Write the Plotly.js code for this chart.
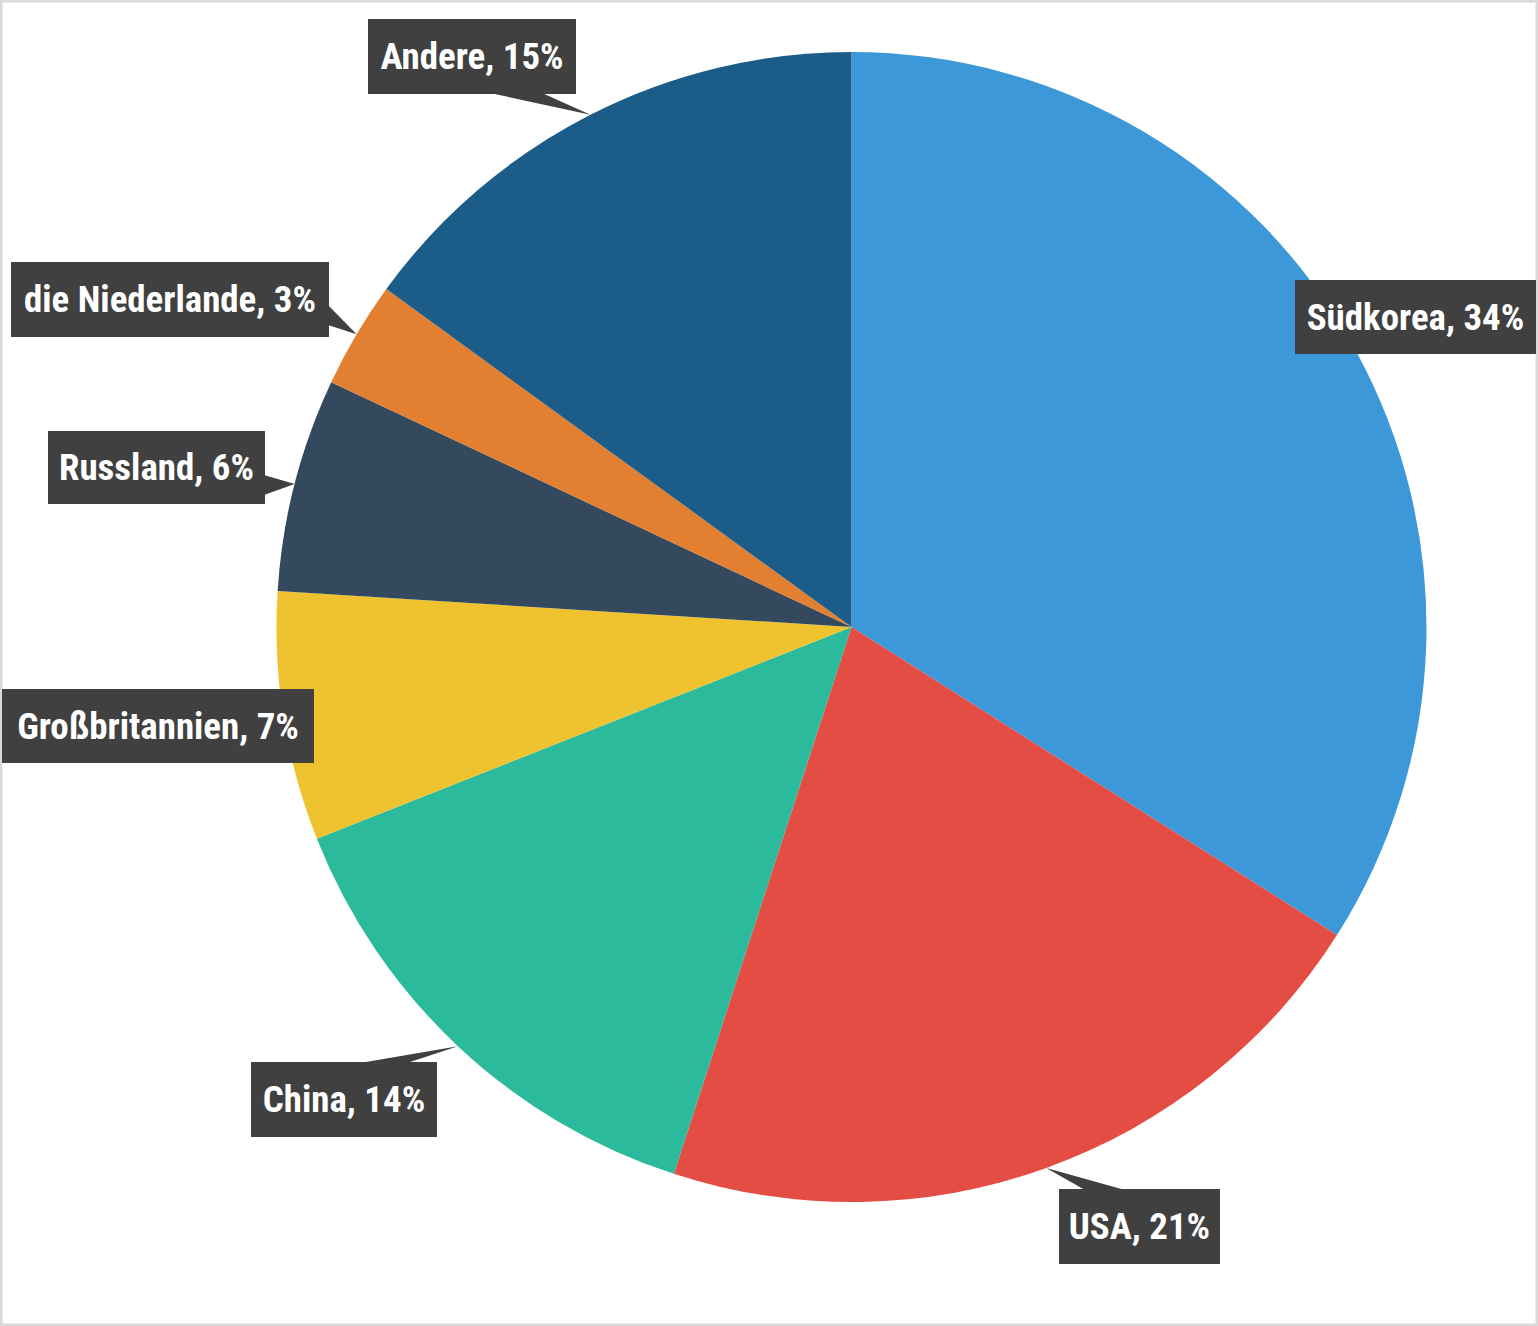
<!DOCTYPE html>
<html>
<head>
<meta charset="utf-8">
<script src="https://cdn.plot.ly/plotly-3.0.1.min.js"></script>
<style>
html,body{margin:0;padding:0;background:#fff;}
#chart{width:1538px;height:1326px;}
</style>
</head>
<body>
<div id="chart"></div>
<script>
// ---- data ----
var categories = ["Südkorea", "USA", "China", "Großbritannien", "Russland", "die Niederlande", "Andere"];
var shares = [34, 21, 14, 7, 6, 3, 15];
var colors = ["#3c98d9", "#e44d43", "#2bba9c", "#efc230", "#34495e", "#e37f31", "#1b5c88"];

// ---- label box layout (pixels) ----
var W = 1538, H = 1326;
var boxes = [
  {cx: 1415.5, cy: 317,    w: 241, h: 74, base: [[1330, 345], [1380, 345]]},
  {cx: 1139.5, cy: 1226.5, w: 161, h: 75, base: [[1085, 1190], [1125, 1190]]},
  {cx: 344,    cy: 1099.5, w: 186, h: 75, base: [[360, 1063], [407, 1063]]},
  {cx: 158,    cy: 726,    w: 312, h: 74, base: [[300, 710], [300, 730]]},
  {cx: 156.5,  cy: 467.5,  w: 217, h: 73, base: [[264, 475], [264, 495]]},
  {cx: 170,    cy: 299.5,  w: 318, h: 75, base: [[328, 305], [328, 325]]},
  {cx: 472,    cy: 56.5,   w: 208, h: 75, base: [[490, 93], [542, 93]]}
];
var pie = {cx: 851.5, cy: 627, r: 575};

function px(x){ return x / W; }
function py(y){ return 1 - y / H; }

// pick an installed condensed font
var canvas = document.createElement("canvas");
var ctx = canvas.getContext("2d");
function textW(font, s){ ctx.font = font; return ctx.measureText(s).width; }
var probe = "abcdefghijklmnopqrstuvwxyz ABCDEFG 0123456789";
function available(f){
  var a = textW("bold 40px monospace", probe), b = textW("bold 40px '" + f + "', monospace", probe);
  var c = textW("bold 40px serif", probe), d = textW("bold 40px '" + f + "', serif", probe);
  return a !== b || c !== d;
}
var candidates = ["Liberation Sans Narrow", "Arial Narrow", "Roboto Condensed", "Noto Sans Condensed", "Open Sans Condensed", "DejaVu Sans Condensed", "Liberation Sans"];
var avail = candidates.filter(available);
var family = avail.length ? avail[0] : "sans-serif";

var labels = categories.map(function(c, i){ return c + ", " + shares[i] + "%"; });
var fontSize = 40;
labels.forEach(function(t, i){
  var w1 = textW("bold 100px '" + family + "'", t) / 100;
  fontSize = Math.min(fontSize, 0.92 * boxes[i].w / w1);
});
fontSize = Math.floor(fontSize * 10) / 10;

var total = shares.reduce(function(a,b){return a+b;}, 0);
var shapes = [];
var annotations = [];
var cum = 0;
for (var i = 0; i < categories.length; i++) {
  var mid = (cum + shares[i] / 2) / total * 2 * Math.PI; // clockwise from top
  cum += shares[i];
  var tx = pie.cx + pie.r * Math.sin(mid);
  var ty = pie.cy - pie.r * Math.cos(mid);
  var b = boxes[i];
  shapes.push({
    type: "path", xref: "paper", yref: "paper", layer: "above",
    path: "M " + px(b.base[0][0]) + " " + py(b.base[0][1]) +
          " L " + px(tx) + " " + py(ty) +
          " L " + px(b.base[1][0]) + " " + py(b.base[1][1]) + " Z",
    fillcolor: "#404040", line: {width: 0}
  });
  annotations.push({
    xref: "paper", yref: "paper", x: px(b.cx), y: py(b.cy),
    xanchor: "center", yanchor: "middle", showarrow: false,
    text: labels[i],
    width: b.w, height: b.h, borderpad: 0, borderwidth: 0,
    bgcolor: "#404040", align: "center", valign: "middle",
    font: {family: family, size: fontSize, color: "#ffffff", weight: "bold"}
  });
}
// outer border
shapes.push({type: "rect", xref: "paper", yref: "paper", x0: 0, y0: 0, x1: 1, y1: 1,
             line: {color: "#d9d9d9", width: 5}, layer: "above"});

var trace = {
  type: "pie",
  labels: categories,
  values: shares,
  sort: false,
  direction: "clockwise",
  rotation: 0,
  marker: {colors: colors, line: {width: 0}},
  textinfo: "none",
  textposition: "none",
  hoverinfo: "label+percent",
  showlegend: false,
  domain: {x: [px(pie.cx - pie.r), px(pie.cx + pie.r)], y: [py(pie.cy + pie.r), py(pie.cy - pie.r)]}
};

var layout = {
  width: W, height: H,
  margin: {l: 0, r: 0, t: 0, b: 0},
  paper_bgcolor: "#ffffff",
  showlegend: false,
  shapes: shapes,
  annotations: annotations
};

Plotly.newPlot("chart", [trace], layout, {displayModeBar: false, staticPlot: true});
</script>
</body>
</html>
